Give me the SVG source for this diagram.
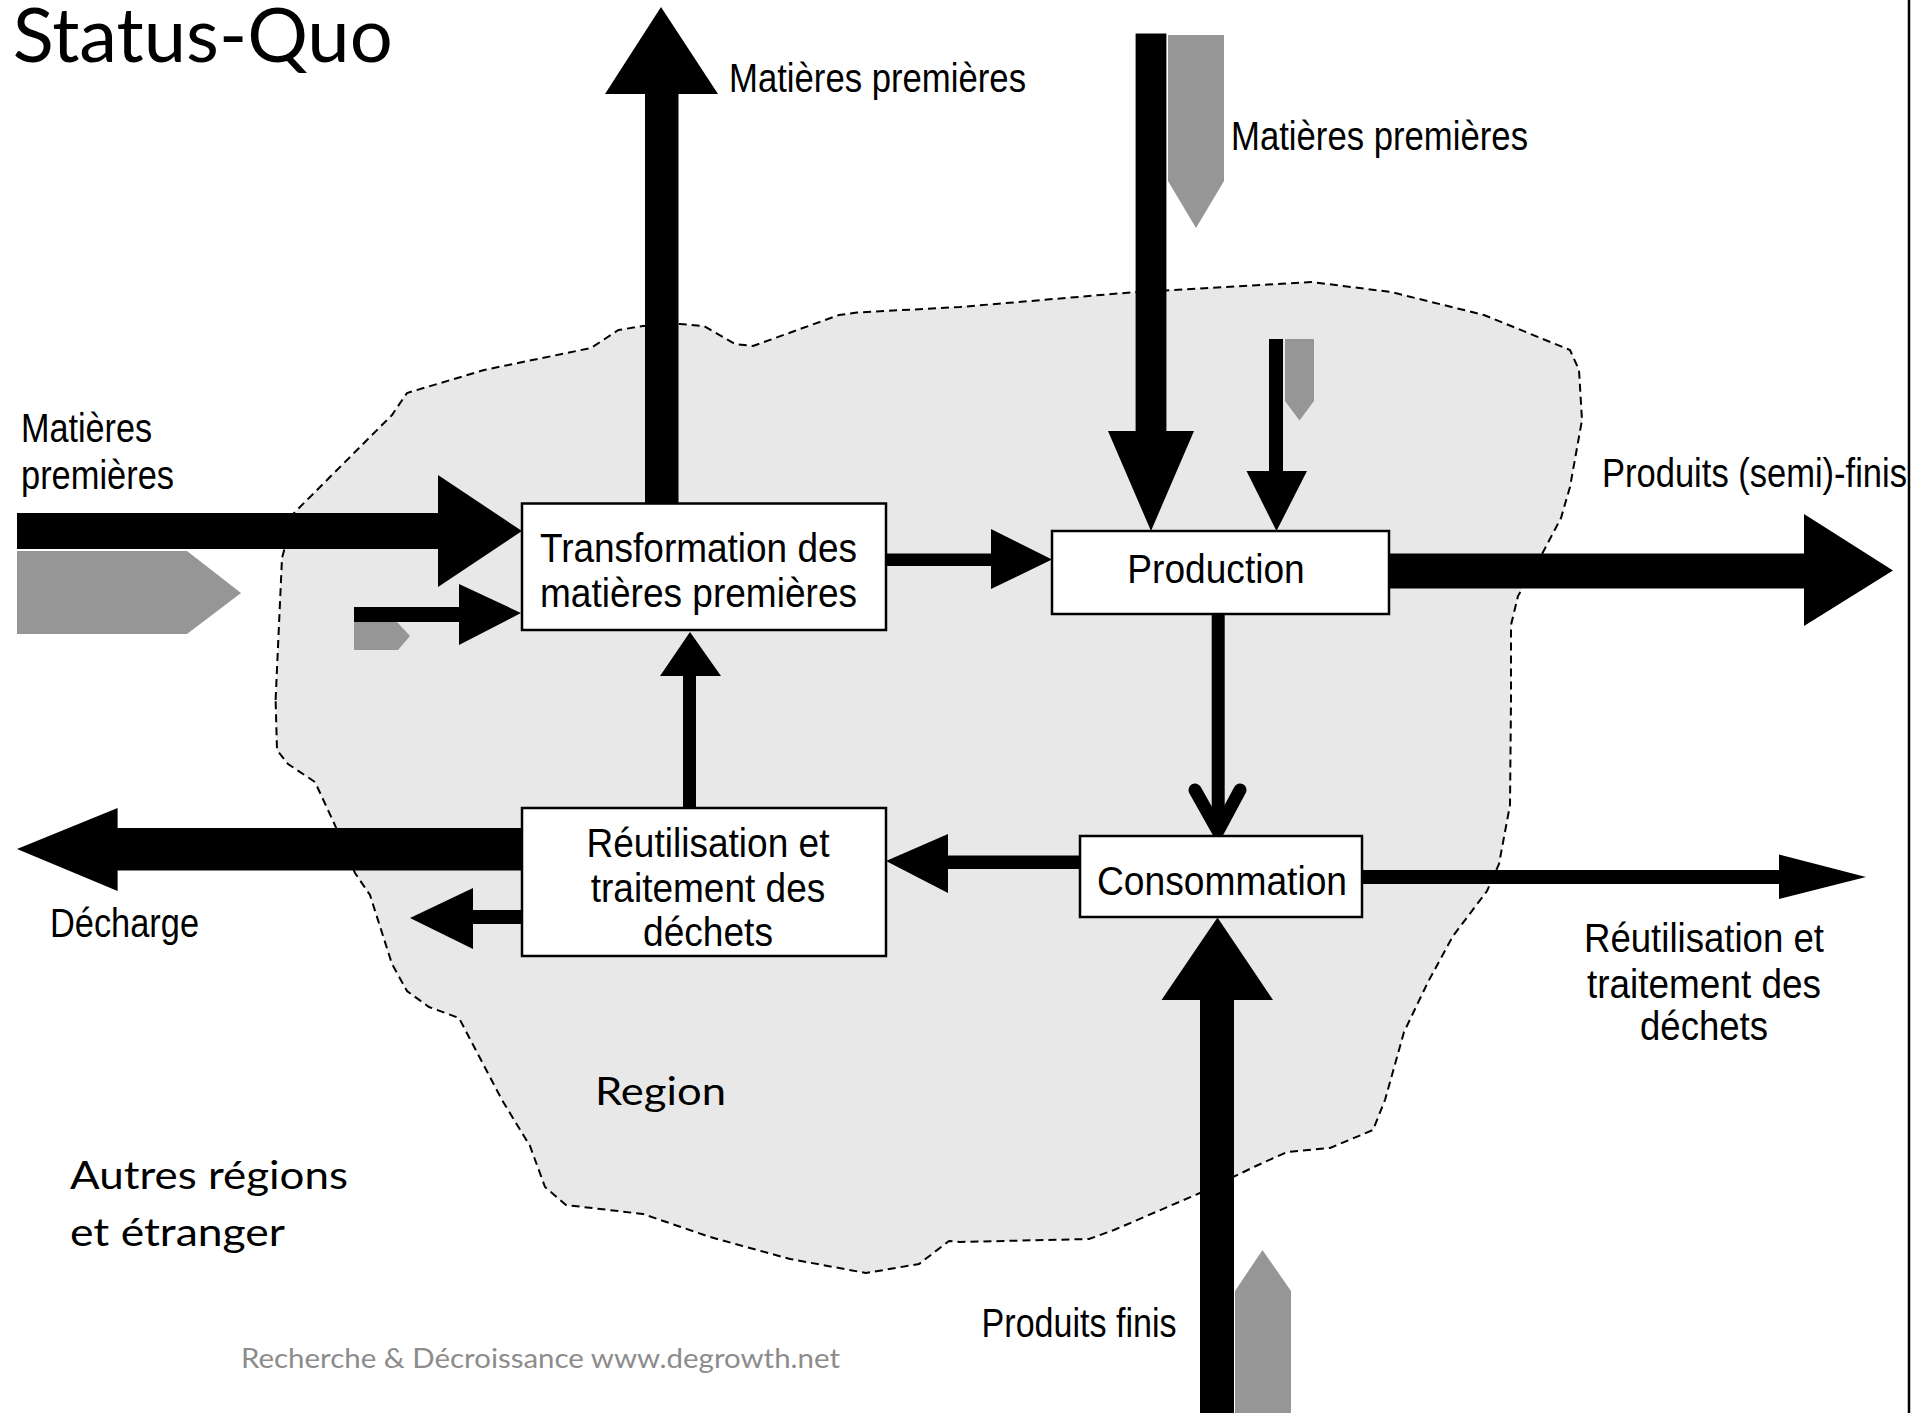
<svg xmlns="http://www.w3.org/2000/svg" width="1926" height="1413" viewBox="0 0 1926 1413">
<style>
.lbl{font-family:"Liberation Sans Narrow","Liberation Sans",Arial,sans-serif;font-size:40px;fill:#000}
.cal{font-family:Lato,"Open Sans",sans-serif;fill:#000}
.box{fill:#fff;stroke:#000;stroke-width:2.5}
.blk{fill:#000}
.gry{fill:#969696}
</style>
<rect x="0" y="0" width="1926" height="1413" fill="#fff"/>
<g id="region">
<path d="M275.6,700 L282,558 L294,513 L392,415 L407,393 L484,370 L591,348 L618.5,330 L643,326 L680,324 L704,326 L735,344 L753,346 L839,315 L857,312.5 L960,307 L1136,292 L1173,290 L1311,282 L1391,292 L1484,315 L1570,350 L1579,370 L1582,420 L1570,487 L1561,518 L1542,554 L1518,596 L1511,625 L1511,700 L1510,805 L1499,864 L1487,891 L1453,936 L1428,982 L1404,1032 L1385,1100 L1373,1130 L1330,1148 L1287,1152 L1256,1166 L1200,1193 L1114,1230 L1089,1239 L960,1242 L949,1241 L919,1264 L866,1273 L790,1259 L710,1237 L643,1214 L566,1205 L545,1187 L530,1146 L502,1100 L459,1018 L429,1007 L407,991 L392,964 L370,895 L355,873 L334,823 L315,782 L288,764 L277,750 Z" fill="#e8e8e8" stroke="#000" stroke-width="2" stroke-dasharray="8,5"/>
</g>
<line x1="1909" y1="0" x2="1909" y2="1413" stroke="#000" stroke-width="2.5"/>
<g id="connectors">
<!-- up out of Transformation -->
<polygon class="blk" points="645,503 645,94 605,94 661,7 718,94 678.5,94 678.5,503"/>
<!-- big in from left -->
<polygon class="blk" points="17,513 438,513 438,475 522,531 438,587 438,549 17,549"/>
<polygon class="gry" points="17,551 187,551 241,593 187,634 17,634"/>
<!-- small in from left -->
<polygon class="blk" points="354,607 459,607 459,584 521,613 459,645 459,622 354,622"/>
<polygon class="gry" points="354,622 397,622 410,636 398,650 354,650"/>
<!-- Transformation -> Production -->
<polygon class="blk" points="886,553.6 991,553.6 991,529 1052,559.5 991,589 991,566 886,566"/>
<!-- big down into Production -->
<polygon class="blk" points="1135.6,33.5 1166.4,33.5 1166.4,431 1194,431 1151,531 1108,431 1135.6,431"/>
<polygon class="gry" points="1168,35 1224,35 1224,181 1196,228 1168,181"/>
<!-- small down into Production -->
<polygon class="blk" points="1269,339 1283,339 1283,471 1307,471 1276.5,531 1246.5,471 1269,471"/>
<polygon class="gry" points="1285,339 1314,339 1314,401 1299.5,420.5 1285,401"/>
<!-- Production -> right -->
<polygon class="blk" points="1389,553.5 1804,553.5 1804,514 1893,570.5 1804,626 1804,588.5 1389,588.5"/>
<!-- Production -> Consommation -->
<rect class="blk" x="1211.7" y="614" width="13" height="215"/>
<polyline points="1195,790 1218,831 1240,790" fill="none" stroke="#000" stroke-width="13" stroke-linecap="round" stroke-linejoin="round"/>
<!-- Consommation -> Réutilisation -->
<polygon class="blk" points="1080,855.5 948,855.5 948,834 886,861 948,893 948,869 1080,869"/>
<!-- Consommation -> right -->
<polygon class="blk" points="1362,870 1779,870 1779,854.6 1866,877 1779,899 1779,884 1362,884"/>
<!-- up into Consommation -->
<polygon class="blk" points="1200,1413 1200,1000 1161.5,1000 1217.5,917.4 1273,1000 1234,1000 1234,1413"/>
<polygon class="gry" points="1235,1413 1235,1291 1262.5,1250 1291,1291 1291,1413"/>
<!-- Réutilisation -> Transformation -->
<polygon class="blk" points="683,808 683,676 660,676 690,632 721,676 696,676 696,808"/>
<!-- Décharge -->
<polygon class="blk" points="522,828 117.6,828 117.6,808 17,849 117.6,891 117.6,870.5 522,870.5"/>
<!-- small left out of Réutilisation -->
<polygon class="blk" points="522,910 473,910 473,888 410,918 473,949 473,924 522,924"/>
</g>
<g id="node-transformation">
<rect class="box" x="522" y="503.5" width="364" height="126.5"/>
<text class="lbl" x="698.5" y="561.7" text-anchor="middle" textLength="317" lengthAdjust="spacingAndGlyphs">Transformation des</text>
<text class="lbl" x="698.5" y="606.7" text-anchor="middle" textLength="317" lengthAdjust="spacingAndGlyphs">matières premières</text>
</g>
<g id="node-production">
<rect class="box" x="1052" y="531" width="337" height="83"/>
<text class="lbl" x="1216" y="582.6" text-anchor="middle" textLength="177.5" lengthAdjust="spacingAndGlyphs">Production</text>
</g>
<g id="node-consommation">
<rect class="box" x="1080" y="836" width="282" height="81"/>
<text class="lbl" x="1222" y="894.6" text-anchor="middle" textLength="250" lengthAdjust="spacingAndGlyphs">Consommation</text>
</g>
<g id="node-reutilisation">
<rect class="box" x="522" y="808" width="364" height="148"/>
<text class="lbl" x="708" y="857" text-anchor="middle" textLength="243" lengthAdjust="spacingAndGlyphs">Réutilisation et</text>
<text class="lbl" x="708" y="901.5" text-anchor="middle" textLength="234.5" lengthAdjust="spacingAndGlyphs">traitement des</text>
<text class="lbl" x="708" y="945.6" text-anchor="middle" textLength="130" lengthAdjust="spacingAndGlyphs">déchets</text>
</g>
<g id="labels">
<text class="cal" x="12.7" y="61.7" font-size="75" textLength="380" lengthAdjust="spacingAndGlyphs">Status-Quo</text>
<text class="lbl" x="729" y="91.5" textLength="297" lengthAdjust="spacingAndGlyphs">Matières premières</text>
<text class="lbl" x="1231" y="150" textLength="297" lengthAdjust="spacingAndGlyphs">Matières premières</text>
<text class="lbl" x="21" y="442" textLength="131" lengthAdjust="spacingAndGlyphs">Matières</text>
<text class="lbl" x="21" y="489" textLength="153" lengthAdjust="spacingAndGlyphs">premières</text>
<text class="lbl" x="1602" y="487" textLength="305" lengthAdjust="spacingAndGlyphs">Produits (semi)-finis</text>
<text class="lbl" x="50" y="936.5" textLength="149" lengthAdjust="spacingAndGlyphs">Décharge</text>
<text class="lbl" x="1704" y="952" text-anchor="middle" textLength="240" lengthAdjust="spacingAndGlyphs">Réutilisation et</text>
<text class="lbl" x="1704" y="998" text-anchor="middle" textLength="234" lengthAdjust="spacingAndGlyphs">traitement des</text>
<text class="lbl" x="1704" y="1040" text-anchor="middle" textLength="128" lengthAdjust="spacingAndGlyphs">déchets</text>
<text class="lbl" x="981.6" y="1336.6" textLength="195" lengthAdjust="spacingAndGlyphs">Produits finis</text>
<text class="cal" x="595" y="1104.7" font-size="38" textLength="131" lengthAdjust="spacingAndGlyphs">Region</text>
<text class="cal" x="70" y="1188.5" font-size="38" textLength="278" lengthAdjust="spacingAndGlyphs">Autres régions</text>
<text class="cal" x="70" y="1245.5" font-size="38" textLength="215" lengthAdjust="spacingAndGlyphs">et étranger</text>
<text class="cal" x="241" y="1368" font-size="27" fill="#8c8c8c" style="fill:#8c8c8c" textLength="599" lengthAdjust="spacingAndGlyphs">Recherche &amp; Décroissance www.degrowth.net</text>
</g>
</svg>
